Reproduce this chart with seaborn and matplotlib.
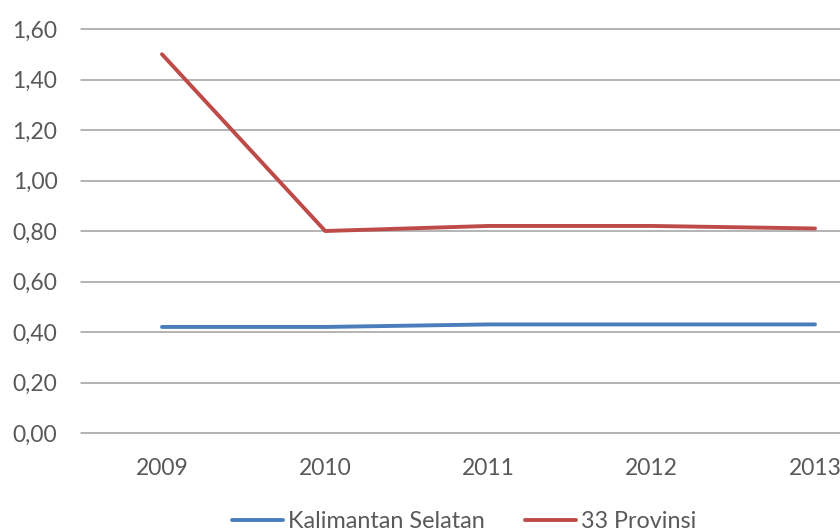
import numpy as np
import pandas as pd
import matplotlib
matplotlib.use("Agg")
import matplotlib.pyplot as plt
import seaborn as sns
from matplotlib.ticker import FuncFormatter

years = ["2009", "2010", "2011", "2012", "2013"]
kalsel = [0.42, 0.42, 0.43, 0.43, 0.43]
provinsi33 = [1.50, 0.80, 0.82, 0.82, 0.81]
series_names = ["Kalimantan Selatan", "33 Provinsi"]
series_colors = ["#4A7EBB", "#BE4B48"]
y_ticks = [0.0, 0.2, 0.4, 0.6, 0.8, 1.0, 1.2, 1.4, 1.6]

df = pd.DataFrame({
    "Tahun": years * 2,
    "Nilai": kalsel + provinsi33,
    "Wilayah": [series_names[0]] * len(years) + [series_names[1]] * len(years),
})

sns.set_theme(style="white")
plt.rcParams["font.family"] = ["Lato", "DejaVu Sans"]

fig = plt.figure(figsize=(8.4, 5.31), dpi=100)
ax = fig.add_axes([81 / 840, 1 - 433 / 531, 1 - 81 / 840, 404 / 531])

sns.lineplot(data=df, x="Tahun", y="Nilai", hue="Wilayah",
             palette=dict(zip(series_names, series_colors)),
             linewidth=2.8, sort=False, ax=ax, legend=False)

ax.set_ylim(0, 1.6)
ax.set_xlim(-0.496, 4.153)
ax.set_yticks(y_ticks)
ax.yaxis.set_major_formatter(FuncFormatter(lambda v, _: f"{v:.2f}".replace(".", ",")))
ax.grid(axis="y", color="#A0A0A0", linewidth=1.1)
ax.grid(axis="x", visible=False)
ax.set_axisbelow(True)
for gl in ax.get_ygridlines():
    gl.set_clip_on(False)
for s in ax.spines.values():
    s.set_visible(False)
ax.tick_params(axis="both", length=0, labelsize=16.5, labelcolor="#595959")
ax.tick_params(axis="y", pad=17)
ax.tick_params(axis="x", pad=18)
ax.set_xlabel("")
ax.set_ylabel("")

handles = [plt.Line2D([], [], color=c, linewidth=2.8) for c in series_colors]
fig.legend(handles, series_names, loc="center left", bbox_to_anchor=(232 / 840, 1 - 522 / 531),
           ncol=2, frameon=False, fontsize=16.8, handlelength=2.2, handletextpad=0.18,
           columnspacing=1.75, borderpad=0, borderaxespad=0, labelcolor="#595959")

fig.savefig("out.png", dpi=100)
